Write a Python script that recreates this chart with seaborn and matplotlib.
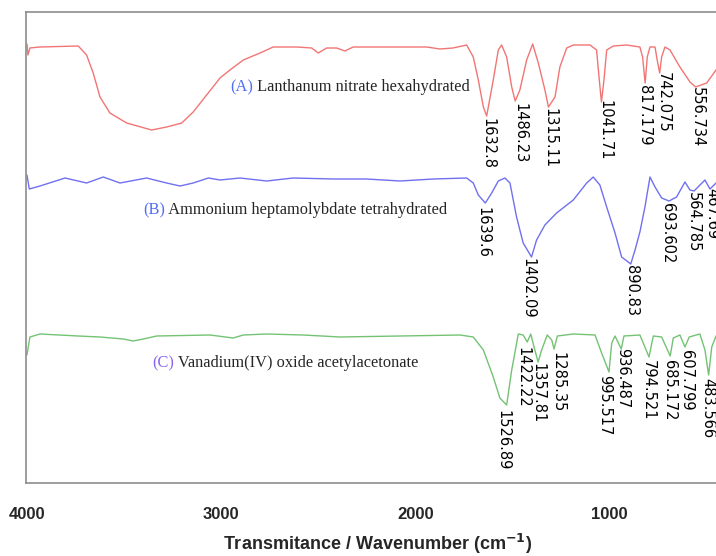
import matplotlib
matplotlib.use("Agg")
import matplotlib.pyplot as plt
import seaborn as sns
import pandas as pd

# -------------------------------
# Spectra (wavenumber cm-1, stacked transmittance a.u.)
# -------------------------------

wn_a = [4000, 3995, 3985, 3933, 3736, 3693, 3659, 3624, 3573, 3487, 3358, 3281,
        3203, 3144, 3075, 3006, 2955, 2886, 2800, 2732, 2611, 2534, 2500, 2457,
        2405, 2363, 2320, 2114, 1942, 1873, 1807, 1736, 1702, 1676, 1650, 1633,
        1599, 1573, 1556, 1530, 1504, 1486, 1462, 1427, 1396, 1367, 1333, 1315,
        1281, 1256, 1221, 1187, 1101, 1067, 1053, 1042, 1029, 1015, 981, 912,
        844, 830, 817, 806, 792, 766, 755, 742, 732, 715, 689, 638, 586, 557,
        500, 452, 400]
t_a = [439, 428, 435, 436, 437, 428, 410, 386, 370, 360, 353, 356,
       360, 371, 388, 405, 413, 423, 430, 436, 436, 435, 430, 435,
       435, 432, 436, 436, 436, 434, 435, 438, 426, 403, 376, 367,
       403, 433, 438, 426, 396, 382, 393, 423, 439, 420, 393, 376,
       386, 416, 435, 438, 438, 433, 403, 381, 403, 433, 437, 438,
       436, 426, 400, 426, 436, 436, 423, 410, 426, 436, 433, 416, 401, 396,
       400, 413, 425]

wn_b = [4000, 3988, 3933, 3804, 3693, 3607, 3521, 3384, 3281, 3212, 3144, 3066,
        3006, 2903, 2766, 2629, 2423, 2251, 2079, 1908, 1736, 1702, 1676, 1640,
        1607, 1573, 1539, 1513, 1479, 1445, 1402, 1376, 1333, 1273, 1187, 1118,
        1084, 1050, 1015, 972, 938, 891, 869, 844, 818, 792, 766, 732, 694, 655,
        612, 586, 565, 509, 483, 452, 400]
t_b = [308, 294, 297, 305, 300, 306, 300, 305, 300, 297, 300, 305,
       303, 305, 302, 305, 304, 304, 302, 304, 305, 300, 288, 280,
       290, 302, 305, 300, 266, 240, 226, 243, 258, 270, 283, 300,
       306, 298, 276, 250, 226, 219, 233, 251, 276, 306, 296, 285, 282, 286,
       301, 293, 292, 303, 294, 300, 298]

wn_c = [4000, 3985, 3933, 3736, 3624, 3504, 3453, 3401, 3332, 3058, 2938, 2886,
        2766, 2577, 2388, 2079, 1770, 1702, 1650, 1599, 1565, 1530, 1504, 1470,
        1445, 1424, 1406, 1389, 1368, 1350, 1321, 1298, 1286, 1269, 1187, 1075,
        1041, 1003, 989, 972, 940, 926, 844, 797, 775, 732, 688, 672, 638, 612,
        590, 535, 509, 490, 474, 452, 400]
t_c = [128, 146, 149, 147, 146, 144, 142, 144, 147, 148, 145, 148,
       149, 148, 146, 147, 148, 146, 133, 106, 85, 78, 113, 149,
       148, 141, 149, 136, 121, 133, 148, 143, 134, 147, 149, 148,
       130, 111, 140, 147, 134, 147, 148, 126, 147, 146, 127, 145, 148, 136,
       146, 149, 133, 108, 136, 147, 148]

# peak labels (text, label x in cm-1, label top in a.u.)
peaks_a = ["1632.8", "1486.23", "1315.11", "1041.71", "817.179", "742.075", "556.734"]
peaks_a_x = [1626, 1462, 1307, 1024, 818, 725, 550]
peaks_a_y = [365, 380, 375, 383, 398, 411, 396]

peaks_b = ["1639.6", "1402.09", "890.83", "693.602", "564.785", "467.69"]
peaks_b_x = [1652, 1420, 885, 700, 571, 473]
peaks_b_y = [276, 225, 218, 280, 291, 295]

peaks_c = ["1526.89", "1422.22", "1357.81", "1285.35", "995.517", "936.487",
           "794.521", "685.172", "607.799", "483.566"]
peaks_c_x = [1549, 1446, 1369, 1266, 1024, 931, 802, 689, 602, 494]
peaks_c_y = [73, 136, 120, 131, 108, 135, 123, 123, 133, 105]

names = ["Lanthanum nitrate hexahydrated",
         "Ammonium heptamolybdate tetrahydrated",
         "Vanadium(IV) oxide acetylacetonate"]
tags = ["(A)", "(B)", "(C)"]
name_x = [2955, 3403, 3356]
name_y = [396, 273, 120]

# -------------------------------
# Plot
# -------------------------------

sns.set_style("white")
plt.rcParams["font.family"] = ["DejaVu Sans"]

fig = plt.figure(figsize=(7.16, 5.56), dpi=100)
ax = fig.add_axes([26 / 716, 73 / 556, 704 / 716, 471 / 556])

colors = ["#f27575", "#7070f0", "#74c274"]
tag_colors = ["#4f6cf2", "#4f6cf2", "#8a63ee"]

for wn, t, c in [(wn_a, t_a, colors[0]), (wn_b, t_b, colors[1]), (wn_c, t_c, colors[2])]:
    df = pd.DataFrame({"wn": wn, "t": t})
    sns.lineplot(data=df, x="wn", y="t", color=c, linewidth=1.0,
                 estimator=None, sort=False, ax=ax)

for labels, xs, ys in [(peaks_a, peaks_a_x, peaks_a_y),
                       (peaks_b, peaks_b_x, peaks_b_y),
                       (peaks_c, peaks_c_x, peaks_c_y)]:
    for lab, x, y in zip(labels, xs, ys):
        ax.text(x, y, lab, rotation=-90, ha="center", va="top",
                fontsize=10.5, color="black")

for tag, name, x, y, tc in zip(tags, names, name_x, name_y, tag_colors):
    t1 = ax.text(x, y, tag, ha="left", va="center", fontsize=11.8,
                 family="Liberation Serif", color=tc)
    ax.annotate(" " + name, xy=(1, 0.5), xycoords=t1, ha="left", va="center",
                fontsize=11.8, family="Liberation Serif", color="#262626")

ax.set_xlim(4005, 380)
ax.set_ylim(0, 471)
ax.set_xticks([4000, 3000, 2000, 1000])
ax.set_xticklabels(["4000", "3000", "2000", "1000"], fontweight="bold",
                   fontsize=12, family="Liberation Sans")
ax.set_yticks([])
ax.tick_params(axis="x", direction="inout", length=7, width=1,
               color="#8c8c8c", pad=14)

for side in ["left", "bottom", "top"]:
    ax.spines[side].set_color("#8c8c8c")
    ax.spines[side].set_linewidth(1.2)
ax.spines["right"].set_visible(False)

ax.set_xlabel(r"Transmitance / Wavenumber (cm$^{\mathbf{-1}}$)", fontsize=13,
              fontweight="bold", family="Liberation Sans", labelpad=7)
ax.set_ylabel("")

fig.savefig("out.png", dpi=100)
